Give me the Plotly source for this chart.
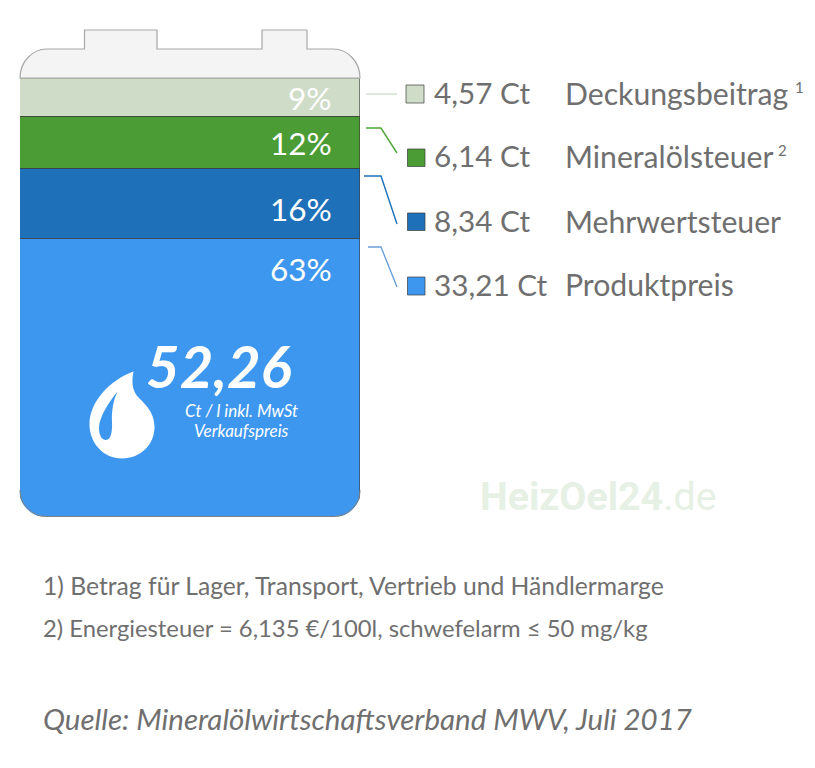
import plotly.graph_objects as go

names = ['Deckungsbeitrag', 'Mineralölsteuer', 'Mehrwertsteuer', 'Produktpreis']
cents = [4.57, 6.14, 8.34, 33.21]
shares = ['9%', '12%', '16%', '63%']
notes = ['1', '2', '', '']
total_label = '52,26'

colors = ['#cfdcc8', '#4b9c34', '#1e71b9', '#3e97ef']
line_colors = ['#cfe0cb', '#4ea636', '#1e71b9', '#6b9fd6']

W, H = 815, 768
FONT = 'Lato'
GREY = '#6f6f6f'


def px(x):
    return x / W


def py(y):
    return 1 - y / H


def label(x, y, text, size, color=GREY, anchor='left', font=FONT):
    return dict(x=px(x), y=py(y), xref='paper', yref='paper', text=text, showarrow=False,
                xanchor=anchor, yanchor='middle', borderpad=0, borderwidth=0,
                font=dict(family=font, size=size, color=color))


def path(points, fill=None, line=None, width=1):
    # points: SVG commands in page pixels, converted to paper coordinates
    out = []
    for p in points:
        if isinstance(p, str):
            out.append(p)
        else:
            out.append(f'{px(p[0]):.5f},{py(p[1]):.5f}')
    shape = dict(type='path', xref='paper', yref='paper', path=' '.join(out), layer='above',
                 line=dict(color=line or 'rgba(0,0,0,0)', width=width))
    if fill:
        shape['fillcolor'] = fill
    return shape


fig = go.Figure()
for name, value, color in reversed(list(zip(names, cents, colors))):
    fig.add_bar(x=['Tank'], y=[value], name=name, width=1, hoverinfo='skip',
                marker=dict(color=color, line=dict(color='rgba(60,60,60,0.6)', width=1)))

shapes = []

# tank head
shapes.append(path(['M', (20, 78), 'C', (20, 62), (32, 49), (47, 49), 'L', (84.5, 49), 'L', (84.5, 30),
                    'L', (157, 30), 'L', (157, 49), 'L', (262, 49), 'L', (262, 30), 'L', (307, 30),
                    'L', (307, 49), 'L', (333, 49), 'C', (348, 49), (360, 62), (360, 78), 'Z'],
                   fill='#f4f4f4', line='#a8a8a8', width=1.2))

# rounded bottom corners
shapes.append(path(['M', (19, 490), 'C', (19, 505), (32, 517.5), (47, 517.5), 'L', (19, 517.5), 'Z'], fill='white'))
shapes.append(path(['M', (361, 490), 'C', (361, 505), (348, 517.5), (333, 517.5), 'L', (361, 517.5), 'Z'], fill='white'))
shapes.append(path(['M', (20, 490), 'C', (20, 505), (32, 516.5), (47, 516.5), 'L', (333, 516.5),
                    'C', (348, 516.5), (360, 505), (360, 490)], line='#808080', width=1))

# connectors
connectors = [
    [(366, 94), (397, 94)],
    [(366, 128), (381, 128), (397, 153)],
    [(364, 176), (381, 176), (397, 224)],
    [(368, 247), (381, 247), (397, 287)],
]
for pts, c in zip(connectors, line_colors):
    cmds = []
    for i, p in enumerate(pts):
        cmds += ['M' if i == 0 else 'L', p]
    shapes.append(path(cmds, line=c, width=1.4))

# legend keys
key_boxes = [(406, 85, 424, 103), (407.5, 149, 425, 166.5), (407.5, 213, 425, 230.5), (407.5, 277, 425, 295)]
for (x0, y0, x1, y1), c in zip(key_boxes, colors):
    shapes.append(dict(type='rect', xref='paper', yref='paper', x0=px(x0), x1=px(x1), y0=py(y0), y1=py(y1),
                       layer='above', fillcolor=c, line=dict(color='rgba(60,60,60,0.7)', width=1)))

# drop
shapes.append(path(['M', (133.5, 371.5), 'C', (110, 380), (89, 402), (89.5, 425), 'C', (90, 444), (104, 458.5), (122, 458.5),
                    'C', (141, 458.5), (155, 444), (154.5, 426), 'C', (154, 412), (145, 404), (139, 398),
                    'C', (133, 392), (131, 384), (133.5, 371.5), 'Z'], fill='white'))
shapes.append(path(['M', (117.5, 391.5), 'C', (108, 403), (99, 418), (99, 428), 'C', (99, 436), (102, 440), (106, 440),
                    'C', (111, 440), (112.5, 431), (112, 422), 'C', (111.5, 412), (113, 401), (117.5, 391.5), 'Z'],
                   fill=colors[3]))

annotations = []

share_y = [97.5, 142.5, 208.5, 269.5]
for s, y in zip(shares, share_y):
    annotations.append(label(332, y, s, 31.5, 'white', 'right'))

legend_y = [92.5, 155.5, 220.5, 284.5]
for value, name, y in zip(cents, names, legend_y):
    annotations.append(label(434, y, f'{value:.2f}'.replace('.', ',') + ' Ct', 29.7))
    annotations.append(label(565, y, name, 30.2))

annotations.append(label(795, 87, notes[0], 15))
annotations.append(label(778, 150, notes[1], 15))

annotations.append(label(146, 365, f'<b><i>{total_label}</i></b>', 58, 'white'))
annotations.append(label(241, 410, '<i>Ct / l inkl. MwSt</i>', 17, 'white', 'center'))
annotations.append(label(241, 430, '<i>Verkaufspreis</i>', 17, 'white', 'center'))

annotations.append(label(480, 497, '<b>HeizOel24</b>.de', 39.3, '#e6f0e4', font='Roboto'))

annotations.append(label(43, 585, '1) Betrag für Lager, Transport, Vertrieb und Händlermarge', 24.7))
annotations.append(label(43, 628, '2) Energiesteuer = 6,135 €/100l, schwefelarm ≤ 50 mg/kg', 23.8))
annotations.append(label(43, 718, '<i>Quelle: Mineralölwirtschaftsverband MWV, Juli 2017</i>', 29.5))

fig.update_layout(
    width=W, height=H, margin=dict(l=0, r=0, t=0, b=0),
    paper_bgcolor='white', plot_bgcolor='white',
    barmode='stack', bargap=0, showlegend=False,
    xaxis=dict(domain=[px(20), px(360)], visible=False, range=[-0.5, 0.5]),
    yaxis=dict(domain=[py(516.5), py(78.5)], visible=False, range=[0, sum(cents)]),
    shapes=shapes, annotations=annotations,
)

fig.write_html("out.html", config={'displayModeBar': False}, post_script="document.body.style.margin='0';")
